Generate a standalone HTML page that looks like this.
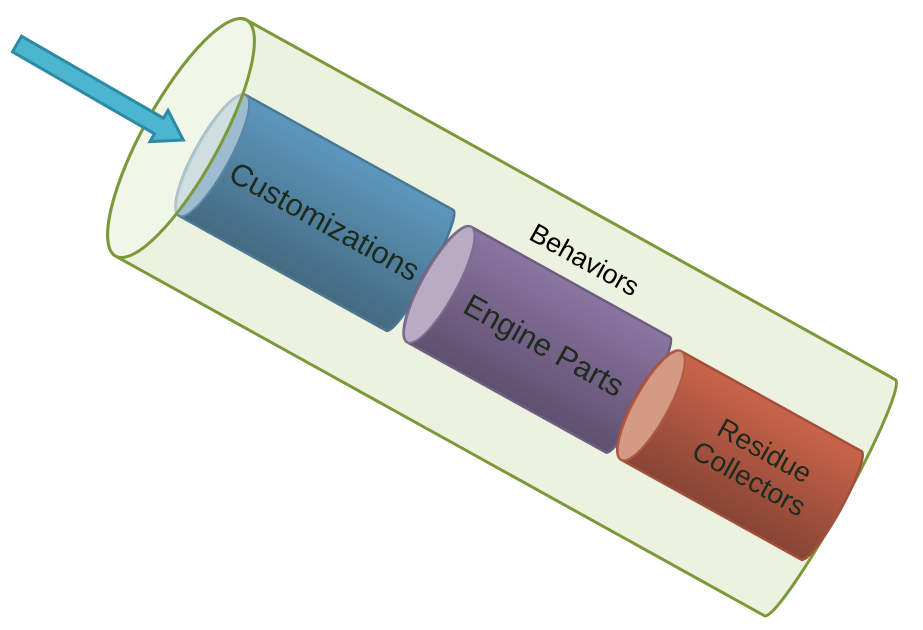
<!DOCTYPE html>
<html><head><meta charset="utf-8"><style>
html,body{margin:0;padding:0;background:#fff;width:923px;height:630px;overflow:hidden}
svg text{font-family:"Liberation Sans",sans-serif}
</style></head><body>
<svg width="923" height="630" viewBox="0 0 923 630" xmlns="http://www.w3.org/2000/svg">
<defs>
<linearGradient id="gb" x1="0" y1="0" x2="0" y2="1"><stop offset="0" stop-color="#5d97be"/><stop offset="1" stop-color="#446a80"/></linearGradient>
<linearGradient id="gp" x1="0" y1="0" x2="0" y2="1"><stop offset="0" stop-color="#8b75a2"/><stop offset="1" stop-color="#5e506e"/></linearGradient>
<linearGradient id="gr" x1="0" y1="0" x2="0" y2="1"><stop offset="0" stop-color="#ca644b"/><stop offset="1" stop-color="#874434"/></linearGradient>
</defs>
<g transform="translate(181,138) rotate(29)">
  <path d="M0,-135 L742,-135 A14 135 0 0 1 742,135 L0,135 A38 135 0 0 1 0,-135 Z" fill="#ecf2df" stroke="#7a9a3a" stroke-width="3"/>
  <path d="M36,-69 L273,-69 A10 69 0 0 1 273,69 L36,69 A18 69 0 0 1 36,-69 Z" fill="url(#gb)" stroke="#4a7892" stroke-width="2.5"/>
  <ellipse cx="36" cy="0" rx="17" ry="69" fill="#9dbcd0" stroke="#5c87a5" stroke-width="2"/>
  <path d="M297,-63 L524,-63 A10 66 0 0 1 524,69 L297,69 A18 66 0 0 1 297,-63 Z" fill="url(#gp)" stroke="#6c5e80" stroke-width="2.5"/>
  <ellipse cx="297" cy="3" rx="17" ry="66" fill="#b9abc1" stroke="#7d6d90" stroke-width="2"/>
  <path d="M541,-56 L747,-56 A10 62 0 0 1 747,68 L541,68 A18 62 0 0 1 541,-56 Z" fill="url(#gr)" stroke="#a14e3a" stroke-width="2.5"/>
  <ellipse cx="541" cy="6" rx="17" ry="62" fill="#d49a84" stroke="#b05a45" stroke-width="2"/>
  <ellipse cx="0" cy="0" rx="38" ry="135" fill="#f6faee" fill-opacity="0.55" stroke="#7a9a3a" stroke-width="3"/>
  <text x="166" y="14" font-size="31" text-anchor="middle" fill="#1f2a1f">Customizations</text>
  <text x="418" y="16" font-size="31" text-anchor="middle" fill="#1f2a1f">Engine Parts</text>
  <text x="662" y="0" font-size="28" text-anchor="middle" fill="#1f2a1f">Residue</text>
  <text x="662" y="32" font-size="28" text-anchor="middle" fill="#1f2a1f">Collectors</text>
  <text x="412" y="-80" font-size="27" text-anchor="middle" fill="#000">Behaviors</text>
</g>
<g transform="translate(17,44) rotate(30)">
  <path d="M0,-9 L164,-9 L164,-18 L192,0 L164,18 L164,9 L0,9 Z" fill="#4bb6d0" stroke="#2c8aa6" stroke-width="3" stroke-linejoin="miter"/>
</g>
</svg>
</body></html>
